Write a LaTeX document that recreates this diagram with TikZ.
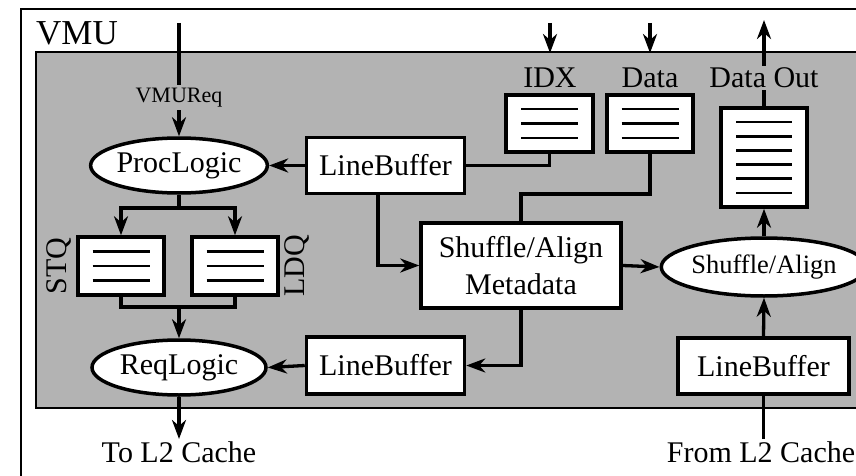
\documentclass[tikz,border=0pt]{standalone}
\usepackage{fontspec}
\setmainfont{Liberation Serif}
\usetikzlibrary{arrows.meta,shapes.geometric,calc}
\definecolor{vmugray}{RGB}{179,179,179}
\tikzset{
  conn/.style={line width=3.3pt, ->},
  wire/.style={line width=3.3pt},
  blk/.style={draw, line width=3.5pt, fill=white, rectangle, inner sep=0pt, align=center, font=\fontsize{30}{37}\selectfont},
  ell/.style={draw, line width=3.5pt, fill=white, ellipse, inner sep=0pt, font=\fontsize{30}{36}\selectfont},
  buf/.style={draw, line width=3.5pt, fill=white, rectangle, inner sep=0pt},
  bufline/.style={line width=2.8pt},
  lbl/.style={font=\fontsize{30}{36}\selectfont, inner sep=2pt},
  frame/.style={line width=2.6pt},
}
\begin{document}
\begin{tikzpicture}[x=1pt, y=-1pt, >={Stealth[length=19pt,width=14pt,inset=6pt]}]
\useasboundingbox (0,0) rectangle (856,476);
\clip (0,0) rectangle (856,476);
% frames
\draw[frame] (21,9) rectangle (900,520);
\draw[frame, fill=vmugray] (36,52) rectangle (900,408);
\node[anchor=base west, inner sep=0pt, font=\fontsize{35}{40}\selectfont] (title) at (36,45) {VMU};

% nodes
\node[ell, minimum width=174pt, minimum height=55pt] (proc) at (179,165.5) {ProcLogic};
\node[ell, minimum width=174pt, minimum height=55pt] (req) at (179,367.5) {ReqLogic};
\node[blk, minimum width=158pt, minimum height=56pt] (lb1) at (385.5,165.5) {LineBuffer};
\node[blk, minimum width=158pt, minimum height=57pt] (lb2) at (385.5,365.5) {LineBuffer};
\node[blk, minimum width=171pt, minimum height=56pt] (lb3) at (763.5,366) {LineBuffer};
\node[blk, minimum width=200pt, minimum height=85pt] (meta) at (521,265.5) {Shuffle/Align\\Metadata};
\node[ell, minimum width=172pt, minimum height=58pt, font=\fontsize{26.5}{30}\selectfont] (shuf) at (764,267) {Shuffle/Align};

\node[buf, minimum width=87pt, minimum height=57pt] (idx) at (549.5,123.5) {};
\node[buf, minimum width=86pt, minimum height=57pt] (data) at (650,123.5) {};
\node[buf, minimum width=86pt, minimum height=58pt] (stq) at (121,266) {};
\node[buf, minimum width=86pt, minimum height=58pt] (ldq) at (235,266) {};
\node[buf, minimum width=86pt, minimum height=99pt] (dout) at (764,157.5) {};
\foreach \n in {idx,data,stq,ldq}{
  \foreach \dy in {-14.5,0,14.5}
    \draw[bufline] ($(\n.center)+(-28.5,\dy)$) -- ($(\n.center)+(28.5,\dy)$);
}
\foreach \dy in {-35.5,-21.3,-7.1,7.1,21.3,35.5}
  \draw[bufline] ($(dout.center)+(-28,\dy)$) -- ($(dout.center)+(28,\dy)$);

% labels
\node[lbl] (idxl) at (550,78) {IDX};
\node[lbl] (datal) at (650,78) {Data};
\node[lbl] (doutl) at (764,78) {Data Out};
\node[lbl, font=\fontsize{22}{26}\selectfont, inner sep=3pt] (vreq) at (179,97.5) {VMUReq};
\node[lbl, rotate=90] (stql) at (59,266) {STQ};
\node[lbl, rotate=90] (ldql) at (297,266) {LDQ};
\node[lbl, anchor=base] (tol2) at (179,462) {To L2 Cache};
\node[lbl, anchor=base] (froml2) at (761,462) {From L2 Cache};

% coordinates for free ends and joints
\coordinate (vin) at (179,23);
\coordinate (idxin) at (550,23);
\coordinate (idxtip) at (550,53);
\coordinate (datain) at (650,23);
\coordinate (datatip) at (650,53);
\coordinate (doutend) at (764,20);
\coordinate (dj) at (650,194);
\coordinate (pj) at (179,208);
\coordinate (qj) at (179,307);

% connectors
\draw[wire] (vin) -- (vreq.north);
\draw[conn] (vreq.south) -- (proc.north);
\draw[conn] (idxin) -- (idxtip);
\draw[conn] (datain) -- (datatip);
\draw[wire] (dout.north) -- (doutl.south);
\draw[conn] (doutl.north) -- (doutend);
\draw[conn] (lb1.west) -- (proc.east);
\draw[wire] (idx.south) |- (lb1.east);
\draw[wire] (data.south) -- (dj) -| (meta.north);
\draw[conn] ([xshift=-7.5pt]lb1.south) |- (meta.west);
\draw[conn] (meta.south) |- (lb2.east);
\draw[conn] (lb2.west) -- (req.east);
\draw[conn] (meta.east) -- (shuf.west);
\draw[conn] (shuf.north) -- (dout.south);
\draw[conn] (lb3.north) -- (shuf.south);
\draw[wire] (lb3.south) -- (lb3.south |- froml2.north);
\draw[conn] (req.south) -- (tol2.north);
\draw[wire] (proc.south) -- (pj);
\draw[conn] (pj) -| (stq.north);
\draw[conn] (pj) -| (ldq.north);
\draw[wire] (stq.south) |- (qj);
\draw[wire] (ldq.south) |- (qj);
\draw[conn] (qj) -- (req.north);
\end{tikzpicture}
\end{document}
